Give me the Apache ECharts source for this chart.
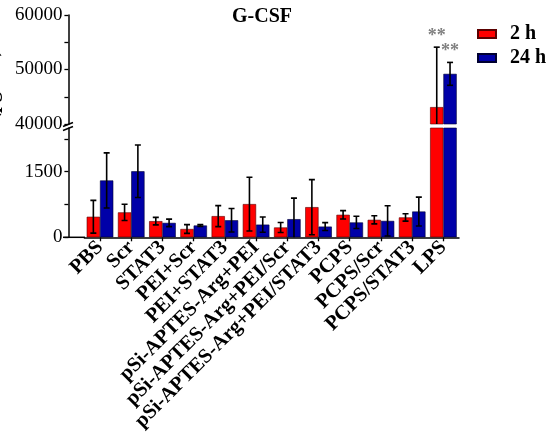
<!DOCTYPE html>
<html><head><meta charset="utf-8">
<script src="https://cdn.jsdelivr.net/npm/echarts@6/dist/echarts.min.js"></script>
<style>html,body{margin:0;padding:0;background:#fff}#c{width:546px;height:443px}</style>
</head><body><div id="c"></div>
<script>
const categories = ['PBS','Scr','STAT3','PEI+Scr','PEI+STAT3','pSi-APTES-Arg+PEI','pSi-APTES-Arg+PEI/Scr','pSi-APTES-Arg+PEI/STAT3','PCPS','PCPS/Scr','PCPS/STAT3','LPS'];
const mean2h  = [470, 570, 370, 190, 485, 760, 225, 690, 515, 400, 455, 43100];
const err2h   = [375, 185,  85, 100, 240, 615, 115, 630,  95,  92,  85, 11000];
const mean24h = [1300, 1510, 330, 270, 390, 290, 415, 245, 340, 375, 590, 49200];
const err24h  = [630, 600,  85,  20, 270, 175, 480,  90, 140, 345, 330, 2100];
const sig2h   = ['','','','','','','','','','','','**'];
const sig24h  = ['','','','','','','','','','','','**'];
const lowerTicks  = [0, 750, 1500, 2250];
const lowerLabels = [0, 1500];
const upperTicks  = [40000, 45000, 50000, 55000, 60000];
const upperLabels = [40000, 50000, 60000];

const SERIF = '"Liberation Serif","Times New Roman",serif';
const RED = '#FF0000', BLUE = '#0000A8';
const chart = echarts.init(document.getElementById('c'), null, {renderer:'canvas'});

function errRender(dx, sig) {
  return function (params, api) {
    const i = api.value(0), v = api.value(1), e = api.value(2);
    const t = api.coord([i, v + e]);
    const b = api.coord([i, v - e]);
    const x = t[0] + dx, cap = 3;
    const st = {stroke:'#000', lineWidth:1.6};
    const ch = [
      {type:'line', shape:{x1:x, y1:t[1], x2:x, y2:b[1]}, style:st},
      {type:'line', shape:{x1:x-cap, y1:t[1], x2:x+cap, y2:t[1]}, style:st},
      {type:'line', shape:{x1:x-cap, y1:b[1], x2:x+cap, y2:b[1]}, style:st}
    ];
    const s = sig ? sig[params.dataIndex] : '';
    if (s) ch.push({type:'text', style:{text:s, x:x, y:t[1]-2, align:'center', verticalAlign:'bottom',
      fill:'#808080', font:'bold 18px ' + SERIF}});
    return {type:'group', children:ch};
  };
}
function toErr(m, e) { return m.map((v, i) => [i, v, e[i]]); }

const yCommon = {
  type:'value', offset:16,
  axisLine:{show:true, lineStyle:{color:'#000', width:1.5}},
  axisTick:{show:true, length:4, lineStyle:{color:'#000', width:1.3}},
  axisLabel:{color:'#000', fontFamily:SERIF, fontSize:19, margin:6, formatter:function(v){return String(v);}},
  splitLine:{show:false}
};

const option = {
  animation:false,
  backgroundColor:'#fff',
  title:{text:'G-CSF', left:232, top:7, padding:0,
    textStyle:{fontFamily:SERIF, fontSize:20, fontWeight:'bold', color:'#000'}},
  legend:{data:['2 h','24 h'], orient:'vertical', left:477, top:24, padding:0, itemWidth:18, itemHeight:8, itemGap:4,
    icon:'rect',
    textStyle:{fontFamily:SERIF, fontSize:20, fontWeight:'bold', color:'#000', padding:[0,0,0,9], lineHeight:20}},
  grid:[
    {left:84.4, right:87, top:15, height:109},
    {left:84.4, right:87, top:128, height:109.3}
  ],
  xAxis:[
    {type:'category', gridIndex:0, data:categories, show:false},
    {type:'category', gridIndex:1, data:categories,
      axisLine:{show:true, lineStyle:{color:'#000', width:1.5}},
      axisTick:{show:true, alignWithLabel:true, length:4, lineStyle:{color:'#000', width:1.3}},
      axisLabel:{interval:0, rotate:45, margin:7, color:'#000', fontFamily:SERIF, fontSize:20.5, fontWeight:'bold'}}
  ],
  yAxis:[
    Object.assign({}, yCommon, {gridIndex:0, min:40000, max:60000, interval:5000,
      axisTick:Object.assign({}, yCommon.axisTick, {customValues:upperTicks}),
      axisLabel:Object.assign({}, yCommon.axisLabel, {customValues:upperLabels})}),
    Object.assign({}, yCommon, {gridIndex:1, min:0, max:2500, interval:500,
      axisTick:Object.assign({}, yCommon.axisTick, {customValues:lowerTicks}),
      axisLabel:Object.assign({}, yCommon.axisLabel, {customValues:lowerLabels})})
  ],
  series:[
    {name:'2 h', type:'bar', xAxisIndex:1, yAxisIndex:1, data:mean2h, barWidth:13.3, barGap:'0%', clip:true,
      itemStyle:{color:RED, borderColor:'#5a0000', borderWidth:0.6}},
    {name:'24 h', type:'bar', xAxisIndex:1, yAxisIndex:1, data:mean24h, barWidth:13.3, barGap:'0%', clip:true,
      itemStyle:{color:BLUE, borderColor:'#000030', borderWidth:0.6}},
    {name:'2 h', type:'bar', xAxisIndex:0, yAxisIndex:0, data:mean2h, barWidth:13.3, barGap:'0%', clip:true,
      itemStyle:{color:RED, borderColor:'#5a0000', borderWidth:0.6}},
    {name:'24 h', type:'bar', xAxisIndex:0, yAxisIndex:0, data:mean24h, barWidth:13.3, barGap:'0%', clip:true,
      itemStyle:{color:BLUE, borderColor:'#000030', borderWidth:0.6}},
    {type:'custom', xAxisIndex:1, yAxisIndex:1, data:toErr(mean2h, err2h), renderItem:errRender(-6.65, null), clip:true, z:5},
    {type:'custom', xAxisIndex:1, yAxisIndex:1, data:toErr(mean24h, err24h), renderItem:errRender(6.65, null), clip:true, z:5},
    {type:'custom', xAxisIndex:0, yAxisIndex:0, data:toErr(mean2h, err2h), renderItem:errRender(-6.65, sig2h), clip:true, z:5},
    {type:'custom', xAxisIndex:0, yAxisIndex:0, data:toErr(mean24h, err24h), renderItem:errRender(6.65, sig24h), clip:true, z:5}
  ],
  graphic:[
    {type:'line', shape:{x1:63, y1:237.3, x2:85, y2:237.3}, style:{stroke:'#000', lineWidth:1.5}},
    {type:'line', shape:{x1:63, y1:126.5, x2:73, y2:122.5}, style:{stroke:'#000', lineWidth:1.5}},
    {type:'line', shape:{x1:63, y1:130.5, x2:73, y2:126.5}, style:{stroke:'#000', lineWidth:1.5}},
    {type:'text', x:2, y:112, rotation:Math.PI/2,
      style:{text:'Conc. (pg/mL)', align:'center', verticalAlign:'bottom', fill:'#000', font:'bold 20px ' + SERIF}}
  ]
};
chart.setOption(option);
</script></body></html>
